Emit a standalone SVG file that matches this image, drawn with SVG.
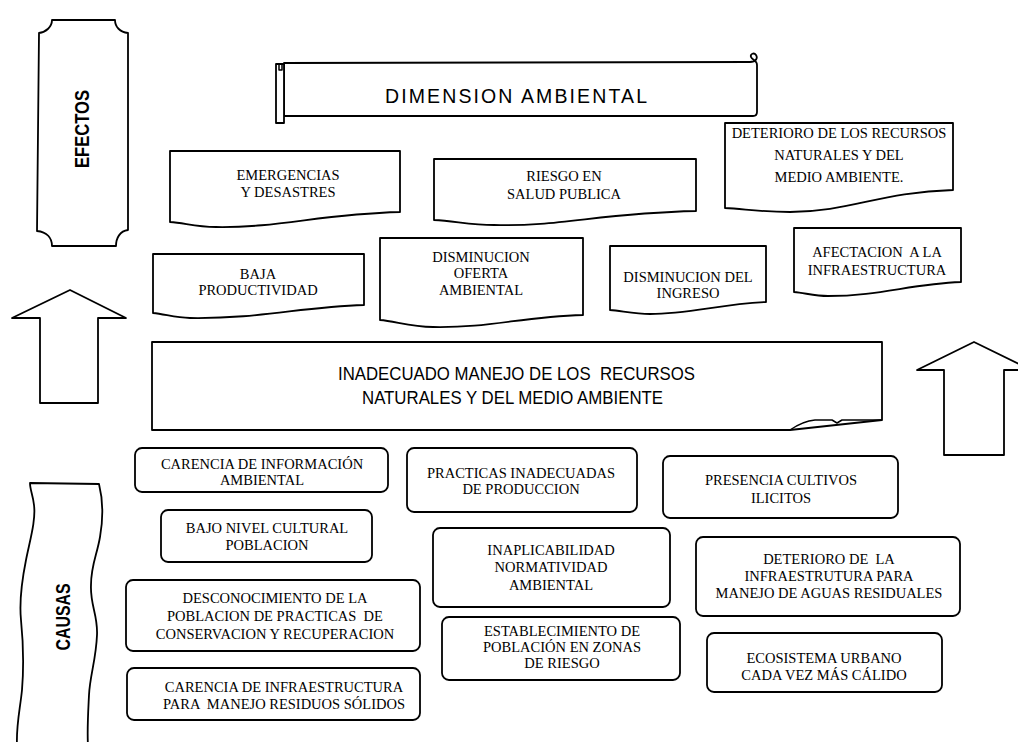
<svg xmlns="http://www.w3.org/2000/svg" width="1018" height="742" viewBox="0 0 1018 742">
<style>
.shape{fill:#fff;stroke:#000;stroke-width:1.8;stroke-linejoin:round}
.thin{fill:none;stroke:#000;stroke-width:1.5;stroke-linejoin:round}
.t{font-family:"Liberation Serif","Times New Roman",serif;font-size:14.5px;text-anchor:middle;fill:#000}
.s{font-family:"Liberation Sans",Arial,sans-serif;fill:#000}
.b{font-weight:bold;font-size:20px;text-anchor:middle}
</style>
<rect width="1018" height="742" fill="#fff"/>

<g id="efectos">
<path class="shape" d="M52,20 H115 C115,27 120,32 128,33 V230 C120,231 116,238 116,246 H52 C52,238 47,232 37,231 L39,33 C46,32 52,27 52,20 Z"/>
<text class="s b" transform="translate(89,129) rotate(-90)" textLength="78" lengthAdjust="spacingAndGlyphs">EFECTOS</text>
</g>

<g id="dimension">
<path class="shape" d="M284,63 L750,62 C756,62 758,58 756,55 C754,52 750,54 751,57 C752,60 757,60 757,65 V112 Q757,116 753,116 H284 Z"/>
<rect class="shape" x="276" y="64" width="8" height="59"/>
<path class="thin" d="M279,64 V70 H282 V64"/>
<text class="s" x="385" y="103" font-size="19.5" textLength="262" lengthAdjust="spacing">DIMENSION AMBIENTAL</text>
</g>

<g id="e-emergencias">
<path class="shape" d="M170,151 H400 V212 C320,214 280,228 216,227 C195,227 185,223 170,222 Z"/>
<text class="t" x="288" y="180">EMERGENCIAS</text>
<text class="t" x="288" y="197">Y DESASTRES</text>
</g>

<g id="e-riesgo">
<path class="shape" d="M434,159 H696 V211 C600,213 560,227 494,225 C470,225 455,221 434,220 Z"/>
<text class="t" x="564" y="181">RIESGO EN</text>
<text class="t" x="564" y="199">SALUD PUBLICA</text>
</g>

<g id="e-deterioro">
<path class="shape" d="M725,123 H953 V190 C880,192 850,212 790,212 C760,212 745,209 725,208 Z"/>
<text class="t" x="839" y="138">DETERIORO DE LOS RECURSOS</text>
<text class="t" x="839" y="160">NATURALES Y DEL</text>
<text class="t" x="839" y="182">MEDIO AMBIENTE.</text>
</g>

<g id="e-baja">
<path class="shape" d="M153,254 H364 V305 C300,307 260,319 190,318 C175,318 165,314 153,313 Z"/>
<text class="t" x="258" y="279">BAJA</text>
<text class="t" x="258" y="295">PRODUCTIVIDAD</text>
</g>

<g id="e-oferta">
<path class="shape" d="M380,238 H583 V315 C520,317 490,328 433,327 C410,327 395,321 380,320 Z"/>
<text class="t" x="481" y="262">DISMINUCION</text>
<text class="t" x="481" y="278">OFERTA</text>
<text class="t" x="481" y="295">AMBIENTAL</text>
</g>

<g id="e-ingreso">
<path class="shape" d="M610,246 H766 V302 C720,304 690,314 650,314 C635,314 622,311 610,310 Z"/>
<text class="t" x="688" y="282">DISMINUCION DEL</text>
<text class="t" x="688" y="298">INGRESO</text>
</g>

<g id="e-afectacion">
<path class="shape" d="M794,228 H961 V282 C910,284 880,296 828,296 C815,296 805,293 794,292 Z"/>
<text class="t" x="877" y="257" xml:space="preserve">AFECTACION  A LA</text>
<text class="t" x="877" y="275">INFRAESTRUCTURA</text>
</g>

<g id="problema">
<path class="shape" d="M152,342 H882 V420 L790,430 H152 Z"/>
<path class="thin" d="M790,430 Q803,421 815,420 H832 L837,423 L842,420 H882"/>
<text class="s" x="338" y="380" font-size="19" textLength="357" lengthAdjust="spacingAndGlyphs" xml:space="preserve">INADECUADO MANEJO DE LOS  RECURSOS</text>
<text class="s" x="362" y="404" font-size="19" textLength="301" lengthAdjust="spacingAndGlyphs">NATURALES Y DEL MEDIO AMBIENTE</text>
</g>

<g id="arrows">
<path class="shape" d="M70,290 L126,318 H98 V403 H40 V318 H12 Z"/>
<path class="shape" d="M974,342 L1031,370 H1004 V455 H944 V370 H917 Z"/>
</g>

<g id="causas">
<path class="shape" d="M30,483 L99,484 C103,500 103,520 100,537 C97,555 91,565 91,585 C90,605 98,615 97,635 C96,660 90,675 89,695 C88,715 87,730 88,746 L17,746 C16,725 20,710 22,690 C24,665 23,640 21,620 C19,600 22,580 26,560 C30,540 36,520 34,505 C33,495 30,490 30,483 Z"/>
<text class="s b" transform="translate(70,617) rotate(-90)" textLength="67" lengthAdjust="spacingAndGlyphs">CAUSAS</text>
</g>

<g id="c-informacion">
<rect class="shape" x="135" y="448" width="253" height="44" rx="7"/>
<text class="t" x="262" y="469">CARENCIA DE INFORMACIÓN</text>
<text class="t" x="262" y="485">AMBIENTAL</text>
</g>

<g id="c-cultural">
<rect class="shape" x="161" y="510" width="211" height="52" rx="7"/>
<text class="t" x="267" y="533">BAJO NIVEL CULTURAL</text>
<text class="t" x="267" y="550">POBLACION</text>
</g>

<g id="c-desconocimiento">
<rect class="shape" x="126" y="580" width="294" height="71" rx="7"/>
<text class="t" x="275" y="603">DESCONOCIMIENTO DE LA</text>
<text class="t" x="275" y="621" xml:space="preserve">POBLACION DE PRACTICAS  DE</text>
<text class="t" x="275" y="639">CONSERVACION Y RECUPERACION</text>
</g>

<g id="c-residuos">
<rect class="shape" x="127" y="668" width="293" height="52" rx="7"/>
<text class="t" x="284" y="692">CARENCIA DE INFRAESTRUCTURA</text>
<text class="t" x="284" y="709" xml:space="preserve">PARA  MANEJO RESIDUOS SÓLIDOS</text>
</g>

<g id="c-practicas">
<rect class="shape" x="407" y="448" width="230" height="64" rx="7"/>
<text class="t" x="521" y="478">PRACTICAS INADECUADAS</text>
<text class="t" x="521" y="494">DE PRODUCCION</text>
</g>

<g id="c-normatividad">
<rect class="shape" x="433" y="528" width="237" height="79" rx="7"/>
<text class="t" x="551" y="555">INAPLICABILIDAD</text>
<text class="t" x="551" y="572">NORMATIVIDAD</text>
<text class="t" x="551" y="590">AMBIENTAL</text>
</g>

<g id="c-establecimiento">
<rect class="shape" x="442" y="617" width="238" height="63" rx="7"/>
<text class="t" x="562" y="636">ESTABLECIMIENTO DE</text>
<text class="t" x="562" y="652">POBLACIÓN EN ZONAS</text>
<text class="t" x="562" y="668">DE RIESGO</text>
</g>

<g id="c-cultivos">
<rect class="shape" x="663" y="456" width="235" height="62" rx="7"/>
<text class="t" x="781" y="485">PRESENCIA CULTIVOS</text>
<text class="t" x="781" y="503">ILICITOS</text>
</g>

<g id="c-aguas">
<rect class="shape" x="696" y="537" width="264" height="79" rx="7"/>
<text class="t" x="829" y="564" xml:space="preserve">DETERIORO DE  LA</text>
<text class="t" x="829" y="581">INFRAESTRUTURA PARA</text>
<text class="t" x="829" y="598">MANEJO DE AGUAS RESIDUALES</text>
</g>

<g id="c-ecosistema">
<rect class="shape" x="707" y="633" width="235" height="59" rx="7"/>
<text class="t" x="824" y="663">ECOSISTEMA URBANO</text>
<text class="t" x="824" y="680">CADA VEZ MÁS CÁLIDO</text>
</g>
</svg>
